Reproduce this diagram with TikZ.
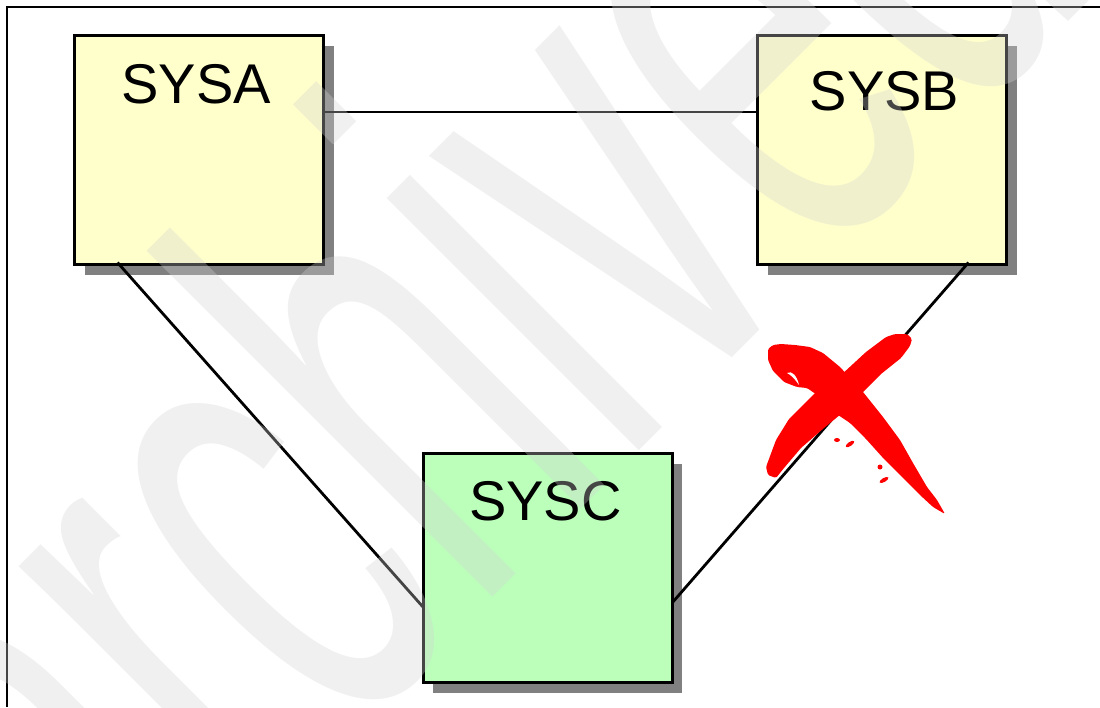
\documentclass[tikz,border=0pt]{standalone}
\usepackage{fontspec}
\usepackage{graphicx}
\setmainfont{Liberation Sans}
\usetikzlibrary{calc,shadows}
\definecolor{boxyellow}{HTML}{FFFFCC}
\definecolor{boxgreen}{HTML}{BBFFBB}
\definecolor{shadowgray}{HTML}{808080}
\definecolor{wmgray}{RGB}{210,210,210}
\definecolor{crossred}{HTML}{FF0000}
\begin{document}
\begin{tikzpicture}[x=1pt,y=-1pt,
  sysbox/.style={draw=black, line width=3pt, minimum width=249pt,
    minimum height=229pt, inner sep=0pt, outer sep=0pt,
    general shadow={fill=shadowgray, shadow xshift=10pt, shadow yshift=-10pt}},
  syslabel/.style={anchor=base, inner sep=0pt, font=\fontsize{56}{56}\selectfont},
  link/.style={line width=2.8pt, draw=black},
  frameline/.style={line width=1.2pt, draw=black},
  crossstroke/.style={fill=crossred, draw=none, rounded corners=1.5pt}
]
\useasboundingbox (0,0) rectangle (1100,707);

% outer frame (top and left edges)
\coordinate (fbl) at (7,707);
\coordinate (ftl) at (7,7);
\coordinate (ftr) at (1100,7);
\draw[frameline] (fbl) -- (ftl) -- (ftr);

% systems
\node[sysbox, fill=boxyellow] (A) at (199,150) {};
\node[sysbox, fill=boxyellow] (B) at (882,150) {};
\node[sysbox, fill=boxgreen]  (C) at (547.5,568) {};

\node[syslabel] (Alab) at (196,103) {SYSA};
\node[syslabel] (Blab) at (884.5,110) {SYSB};
\node[syslabel] (Clab) at (545.5,520) {SYSC};

% connections
\draw[link] ($(A.east)+(0,-38)$) -- ($(B.west)+(0,-38)$);
\draw[link] ($(A.south west)+(43,-2)$) -- ($(C.west)+(0,39)$);
\draw[link] ($(B.south east)+(-38,-2)$) -- ($(C.east)+(0,35)$);

% watermark lettering laid over the drawing
\begin{scope}
\clip (0,0) rectangle (1100,707);
\node[anchor=base west, inner sep=0pt, rotate=45, text=wmgray,
  text opacity=0.33, font=\fontsize{375}{375}\selectfont] (wm) at (106,984)
  {\scalebox{1}[1.8]{archived}};
\end{scope}

% red brush cross over the broken link
\fill[crossstroke] (768,349) -- (773,345) -- (781,344) -- (795,345) -- (810,347)
  -- (823,353) -- (840,367) -- (863,392) -- (883,417) -- (900,440)
  -- (913,463) -- (927,487) -- (937,500) -- (945,514)
  -- (933,507) -- (920,495) -- (903,478) -- (884,459) -- (866,439)
  -- (850,423) -- (838,415) -- (823,399) -- (807,388) -- (797,387)
  -- (784,382) -- (773,371) -- (768,360) -- cycle;
\fill[crossstroke] (907,334) -- (895,334) -- (886,337) -- (866,352) -- (840,376)
  -- (816,392) -- (789,419) -- (776,440) -- (766,467) -- (768,475)
  -- (776,478) -- (784,468) -- (801,448) -- (824,428) -- (841,414)
  -- (864,391) -- (881,374) -- (901,358) -- (910,346) -- (912,339) -- cycle;
% brush details
\fill[white] (787,373) .. controls (792,370) and (797,376) .. (799,385)
  .. controls (795,379) and (791,375) .. (787,373) -- cycle;
\fill[crossred] (837,440) ellipse [x radius=3, y radius=2];
\fill[crossred, rotate around={35:(850,444)}] (850,444) ellipse [x radius=5, y radius=2];
\fill[crossred] (880,467) ellipse [x radius=2.5, y radius=2.5];
\fill[crossred, rotate around={30:(884,480)}] (884,480) ellipse [x radius=5, y radius=2];
\end{tikzpicture}
\end{document}
